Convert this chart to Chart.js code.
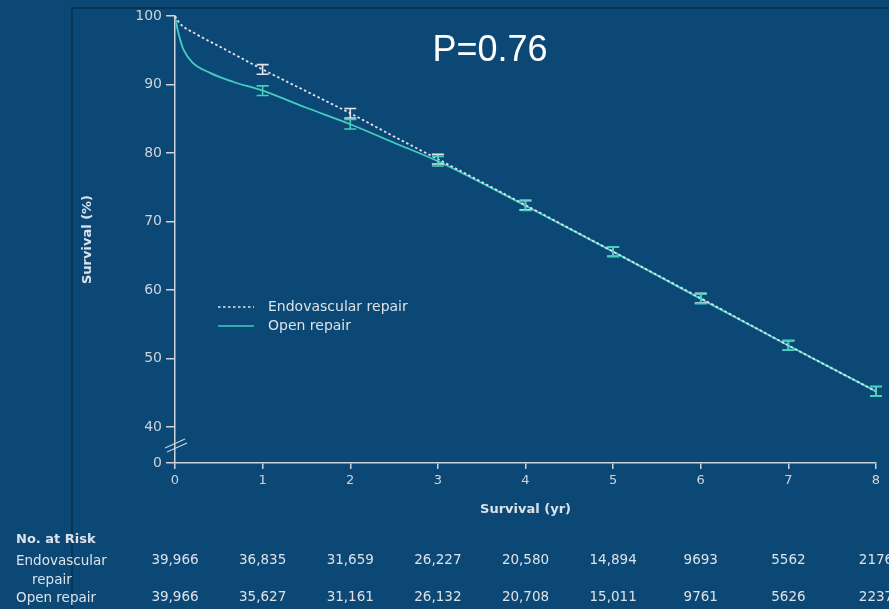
<!DOCTYPE html>
<html>
<head>
<meta charset="utf-8">
<script src="https://cdn.jsdelivr.net/npm/chart.js@4.4.1/dist/chart.umd.min.js"></script>
<style>
  html, body { margin: 0; padding: 0; background: #0b4876; }
  #wrap { width: 889px; height: 609px; position: relative; }
</style>
</head>
<body>
<div id="wrap"><canvas id="survChart" width="889" height="609"></canvas></div>
<script>
// Kaplan-Meier style survival curves
const endoYears = [0, 0.05, 0.25, 0.5, 0.75, 1, 1.5, 2, 2.5, 3, 4, 5, 6, 7, 8];
const endoSurv  = [100, 99.0, 97.3, 95.6, 93.9, 92.2, 89.0, 85.8, 82.4, 79.1, 72.4, 65.6, 58.8, 51.9, 45.2];
const openYears = [0, 0.03, 0.06, 0.1, 0.2, 0.4, 0.66, 1, 1.5, 2, 2.5, 3, 4, 5, 6, 7, 8];
const openSurv  = [100, 98.0, 96.5, 95.0, 93.2, 91.7, 90.4, 89.1, 86.6, 84.2, 81.5, 78.8, 72.3, 65.6, 58.7, 51.9, 45.2];

// error bars at whole years
const errYears = [1, 2, 3, 4, 5, 6, 7, 8];
const endoErr  = [92.2, 85.8, 79.1, 72.4, 65.6, 58.8, 51.9, 45.2];
const openErr  = [89.1, 84.2, 78.8, 72.3, 65.6, 58.7, 51.9, 45.2];
const errHalf = 0.7;

// y axis has a break between 0 and 40
const yBreakBase = 34.74;
const yTickValues = [yBreakBase, 40, 50, 60, 70, 80, 90, 100];
const yTickLabels = ['0', '40', '50', '60', '70', '80', '90', '100'];

// number at risk table
const riskYears = [0, 1, 2, 3, 4, 5, 6, 7, 8];
const endoRisk = ['39,966', '36,835', '31,659', '26,227', '20,580', '14,894', '9693', '5562', '2176'];
const openRisk = ['39,966', '35,627', '31,161', '26,132', '20,708', '15,011', '9761', '5626', '2237'];

const axisColor = '#cdd3da';
const textColor = '#dde2e8';
const endoColor = '#e8e2ec';
const openColor = '#45cdbd';
const font = 'DejaVu Sans';

function toPoints(xs, ys) {
    return xs.map((x, i) => ({ x: x, y: ys[i] }));
}

// panel edge, axis break, error bars, legend, P value and risk table
const extras = {
    id: 'extras',
    beforeDraw(chart) {
        const ctx = chart.ctx;
        ctx.save();
        ctx.strokeStyle = '#063556';
        ctx.lineWidth = 2;
        ctx.beginPath();
        ctx.moveTo(72, 609);
        ctx.lineTo(72, 8);
        ctx.lineTo(889, 8);
        ctx.stroke();
        ctx.restore();
    },
    afterDatasetsDraw(chart) {
        const ctx = chart.ctx;
        const xs = chart.scales.x, ys = chart.scales.y;

        // error bars
        const drawBars = (vals, color) => {
            ctx.strokeStyle = color;
            ctx.lineWidth = 1.6;
            errYears.forEach((yr, i) => {
                const px = xs.getPixelForValue(yr);
                const top = ys.getPixelForValue(vals[i] + errHalf);
                const bot = ys.getPixelForValue(vals[i] - errHalf);
                ctx.beginPath();
                ctx.moveTo(px, top); ctx.lineTo(px, bot);
                ctx.moveTo(px - 6, top); ctx.lineTo(px + 6, top);
                ctx.moveTo(px - 6, bot); ctx.lineTo(px + 6, bot);
                ctx.stroke();
            });
        };
        ctx.save();
        drawBars(endoErr, endoColor);
        drawBars(openErr, openColor);

        // axis break marks
        const ax = xs.getPixelForValue(0);
        const by = ys.getPixelForValue((yBreakBase + 40) / 2);
        ctx.strokeStyle = axisColor;
        ctx.lineWidth = 1.2;
        ctx.beginPath();
        ctx.moveTo(ax - 10, by + 3); ctx.lineTo(ax + 10, by - 6);
        ctx.moveTo(ax - 8, by + 7); ctx.lineTo(ax + 12, by - 2);
        ctx.stroke();

        // legend
        ctx.font = '14px "' + font + '"';
        ctx.textBaseline = 'middle';
        ctx.textAlign = 'left';
        chart.data.datasets.forEach((ds, i) => {
            const ly = 307 + i * 19;
            ctx.strokeStyle = ds.borderColor;
            ctx.lineWidth = 1.6;
            ctx.setLineDash(ds.borderDash || []);
            ctx.beginPath();
            ctx.moveTo(218, ly); ctx.lineTo(254, ly);
            ctx.stroke();
            ctx.setLineDash([]);
            ctx.fillStyle = textColor;
            ctx.fillText(ds.label, 268, ly);
        });

        // P value
        ctx.font = '36px "Liberation Sans"';
        ctx.fillStyle = '#ffffff';
        ctx.textAlign = 'center';
        ctx.fillText('P=0.76', 490, 51);

        // number at risk
        ctx.fillStyle = textColor;
        ctx.textAlign = 'left';
        ctx.font = 'bold 13px "' + font + '"';
        ctx.fillText('No. at Risk', 16, 540);
        ctx.font = '13.5px "' + font + '"';
        ctx.fillText('Endovascular', 16, 561);
        ctx.fillText('repair', 32, 580);
        ctx.fillText('Open repair', 16, 598);
        ctx.textAlign = 'center';
        riskYears.forEach((yr, i) => {
            const px = xs.getPixelForValue(yr);
            ctx.fillText(endoRisk[i], px, 560);
            ctx.fillText(openRisk[i], px, 597);
        });
        ctx.restore();
    }
};

new Chart(document.getElementById('survChart'), {
    type: 'line',
    data: {
        datasets: [
            {
                label: 'Endovascular repair',
                data: toPoints(endoYears, endoSurv),
                borderColor: endoColor,
                borderWidth: 1.8,
                borderDash: [2.5, 2.5],
                pointRadius: 0,
                cubicInterpolationMode: 'monotone'
            },
            {
                label: 'Open repair',
                data: toPoints(openYears, openSurv),
                borderColor: openColor,
                borderWidth: 1.8,
                pointRadius: 0,
                cubicInterpolationMode: 'monotone'
            }
        ]
    },
    options: {
        responsive: false,
        animation: false,
        layout: { padding: { left: 75, right: 13, top: 16, bottom: 0 } },
        plugins: {
            legend: { display: false },
            tooltip: { enabled: false }
        },
        scales: {
            x: {
                type: 'linear',
                min: 0,
                max: 8,
                afterFit: (s) => { s.height = 146; s.paddingLeft = 0; s.paddingRight = 0; },
                ticks: {
                    stepSize: 1,
                    color: axisColor,
                    font: { family: font, size: 13 },
                    padding: 4,
                    maxRotation: 0
                },
                grid: { drawOnChartArea: false, drawTicks: true, tickLength: 6, color: axisColor, lineWidth: 1.5 },
                border: { display: true, color: axisColor, width: 1.5 },
                title: {
                    display: true,
                    text: 'Survival (yr)',
                    color: textColor,
                    font: { family: font, size: 13, weight: 'bold' },
                    padding: { top: 0, bottom: 92 }
                }
            },
            y: {
                type: 'linear',
                min: yBreakBase,
                max: 100,
                afterFit: (s) => { s.width = 100; s.paddingTop = 0; s.paddingBottom = 0; },
                afterBuildTicks: (s) => { s.ticks = yTickValues.map(v => ({ value: v })); },
                ticks: {
                    color: axisColor,
                    font: { family: font, size: 14 },
                    padding: 4,
                    callback: (v) => yTickLabels[yTickValues.indexOf(v)]
                },
                grid: { drawOnChartArea: false, drawTicks: true, tickLength: 9, color: axisColor, lineWidth: 1.5 },
                border: { display: true, color: axisColor, width: 1.5 },
                title: {
                    display: true,
                    text: 'Survival (%)',
                    color: textColor,
                    font: { family: font, size: 13, weight: 'bold' },
                    padding: { top: 5, bottom: 0 }
                }
            }
        }
    },
    plugins: [extras]
});
</script>
</body>
</html>
